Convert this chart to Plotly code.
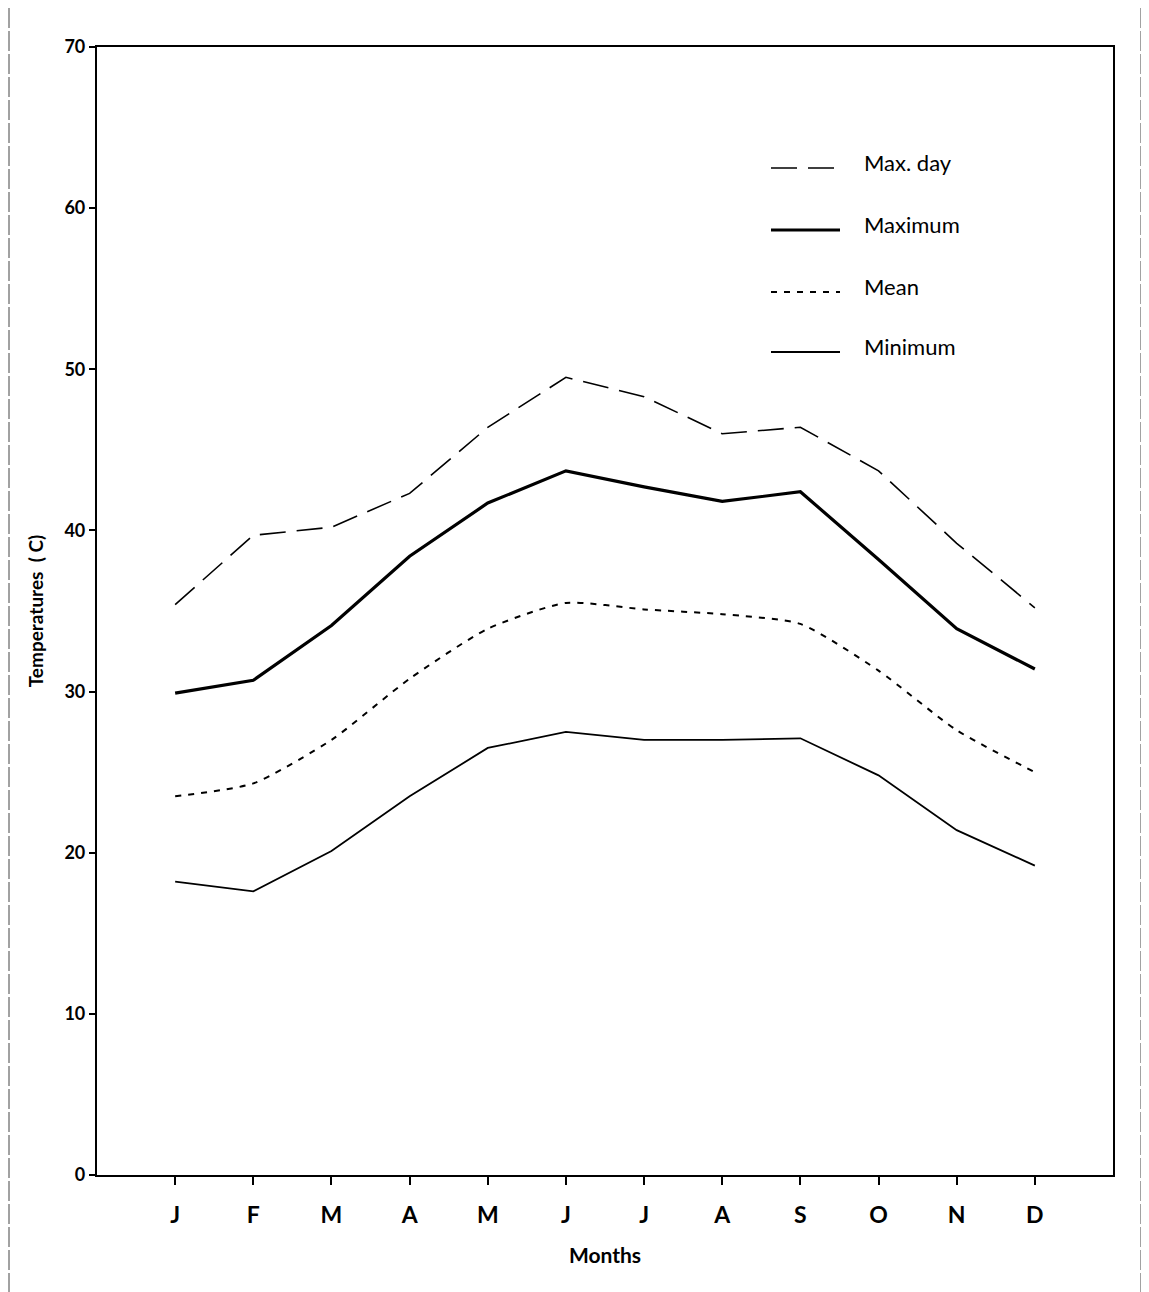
import plotly.graph_objects as go

months = ["J", "F", "M", "A", "M", "J", "J", "A", "S", "O", "N", "D"]
month_pos = list(range(1, 13))

max_day = [35.4, 39.7, 40.2, 42.3, 46.4, 49.5, 48.3, 46.0, 46.4, 43.7, 39.2, 35.2]
maximum = [29.9, 30.7, 34.1, 38.4, 41.7, 43.7, 42.7, 41.8, 42.4, 38.2, 33.9, 31.4]
mean = [23.5, 24.3, 27.0, 30.8, 33.9, 35.5, 35.1, 34.8, 34.2, 31.3, 27.6, 25.0]
minimum = [18.2, 17.6, 20.1, 23.5, 26.5, 27.5, 27.0, 27.0, 27.1, 24.8, 21.4, 19.2]

y_ticks = [0, 10, 20, 30, 40, 50, 60, 70]

legend_names = ["Max. day", "Maximum", "Mean", "Minimum"]

FONT = "Lato"

fig = go.Figure()
fig.add_trace(go.Scatter(x=month_pos, y=max_day, mode="lines", name="Max. day",
                         line=dict(color="black", width=1.6, dash="26px,11px")))
fig.add_trace(go.Scatter(x=month_pos, y=maximum, mode="lines", name="Maximum",
                         line=dict(color="black", width=3.2)))
fig.add_trace(go.Scatter(x=month_pos, y=mean, mode="lines", name="Mean",
                         line=dict(color="black", width=2, dash="6px,7px", shape="spline", smoothing=0.6)))
fig.add_trace(go.Scatter(x=month_pos, y=minimum, mode="lines", name="Minimum",
                         line=dict(color="black", width=1.8)))

W, H = 1149, 1292
OFF = 8  # page body margin
ml, mr, mt, mb = 89, 44, 39, 125
pw, ph = W - ml - mr, H - mt - mb
def px_x(x):
    return (x - OFF - ml) / pw
def px_y(y):
    return 1 - (y - OFF - mt) / ph

# manual legend
styles = [
    dict(width=1.6, dash="26px,11px"),
    dict(width=3.2, dash="solid"),
    dict(width=2, dash="6px,7px"),
    dict(width=1.8, dash="solid"),
]
leg_y_px = [168, 230, 292, 352]
for name, st, yp in zip(legend_names, styles, leg_y_px):
    fig.add_shape(type="line", xref="paper", yref="paper",
                  x0=px_x(771), x1=px_x(840), y0=px_y(yp), y1=px_y(yp),
                  line=dict(color="black", width=st["width"], dash=st["dash"]))
    fig.add_annotation(xref="paper", yref="paper", x=px_x(862), y=px_y(yp - 6),
                       text=name, showarrow=False, xanchor="left", yanchor="middle",
                       font=dict(family=FONT, size=22, color="black"))

# scanned page border
for bx in (9, 1141):
    fig.add_shape(type="line", xref="paper", yref="paper", x0=px_x(bx), x1=px_x(bx),
                  y0=px_y(OFF), y1=px_y(1292), line=dict(color="#444", width=1, dash="20px,3px"))

fig.update_layout(
    width=W, height=H,
    margin=dict(l=ml, r=mr, t=mt, b=mb),
    paper_bgcolor="white", plot_bgcolor="white",
    showlegend=False,
    font=dict(family=FONT, color="black"),
    xaxis=dict(range=[0, 13], tickvals=month_pos, ticktext=months,
               showgrid=False, zeroline=False, showline=True, linecolor="black", linewidth=2.2,
               mirror=True, ticks="outside", ticklen=8, tickwidth=1.5, tickcolor="black",
               ticklabelstandoff=10,
               tickfont=dict(family=FONT, size=23, color="black", weight="bold"),
               title=dict(text="<b>Months</b>", font=dict(family=FONT, size=21), standoff=22)),
    yaxis=dict(range=[0, 70], tickvals=y_ticks,
               showgrid=False, zeroline=False, showline=True, linecolor="black", linewidth=2.2,
               mirror=True, ticks="outside", ticklen=6, tickwidth=1.5, tickcolor="black",
               tickfont=dict(family=FONT, size=18, color="black", weight="bold"),
               title=dict(text="<b>Temperatures  ( C)</b>", font=dict(family=FONT, size=19), standoff=16)),
)

fig.write_html("out.html")
